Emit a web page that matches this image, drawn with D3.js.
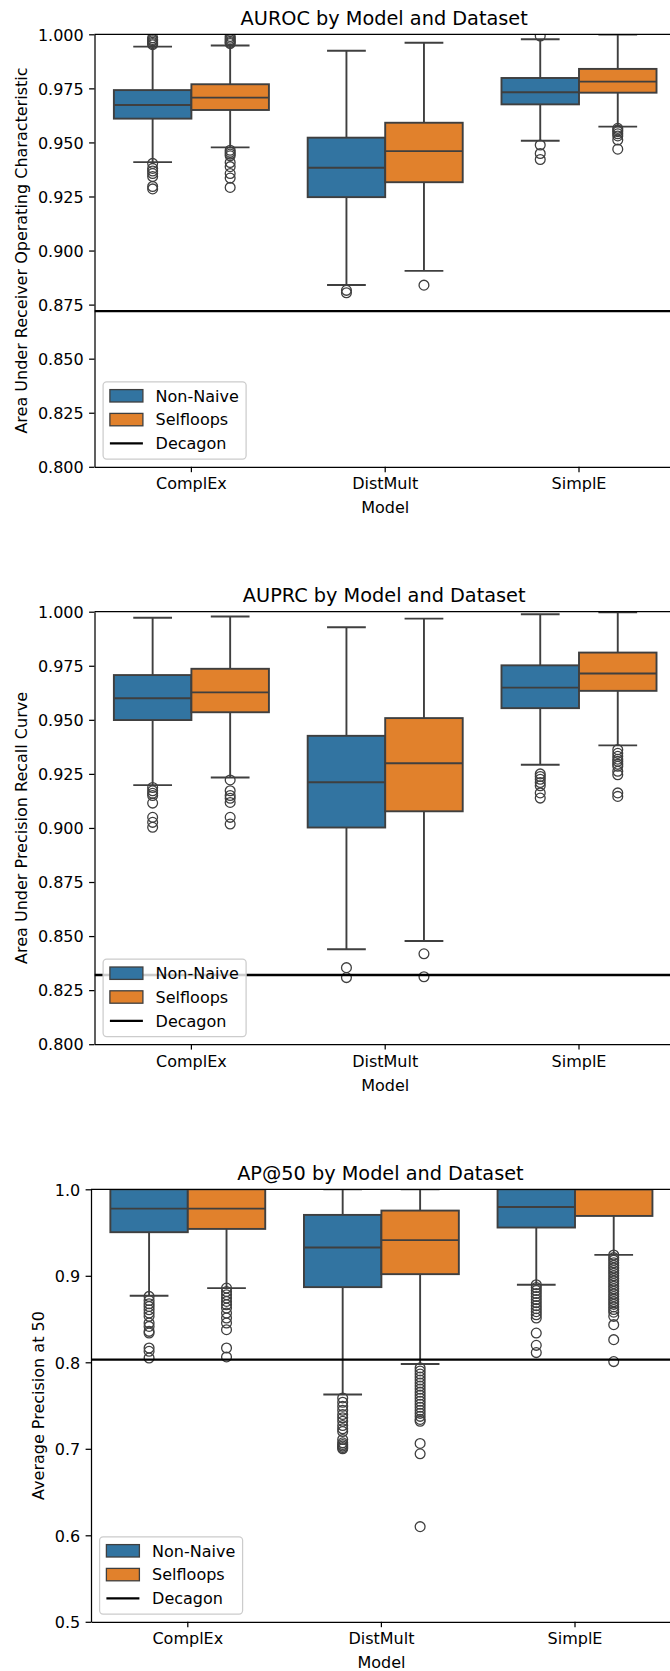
<!DOCTYPE html>
<html><head><meta charset="utf-8">
<script src="https://cdn.jsdelivr.net/npm/d3@7"></script>
<style>
body{margin:0;background:#fff}
svg{display:block}
text{font-family:"DejaVu Sans",sans-serif;fill:#000}
</style>
</head><body>
<svg id="chart" width="670" height="1671"></svg>
<script>
// ---------------- DATA ----------------
const models = ["ComplEx", "DistMult", "SimplE"];
const datasets = ["Non-Naive", "Selfloops"];
const legendLabels = ["Non-Naive", "Selfloops", "Decagon"];

// box stats per model: [lower whisker, Q1, median, Q3, upper whisker]
const aurocNonNaive = [
  [0.9409, 0.9610, 0.9673, 0.9742, 0.9943],
  [0.8841, 0.9247, 0.9383, 0.9522, 0.9924],
  [0.9508, 0.9676, 0.9732, 0.9798, 0.9977]
];
const aurocSelfloops = [
  [0.9477, 0.9650, 0.9707, 0.9769, 0.9948],
  [0.8906, 0.9316, 0.9460, 0.9591, 0.9961],
  [0.9573, 0.9730, 0.9781, 0.9840, 0.9999]
];
const aurocNonNaiveOutliers = [
  [0.9984, 0.9976, 0.9970, 0.9963, 0.9957, 0.9952, 0.9403, 0.9380, 0.9368, 0.9356, 0.9342, 0.9296, 0.9285],
  [0.8816, 0.8805],
  [0.9992, 0.9488, 0.9449, 0.9421]
];
const aurocSelfloopsOutliers = [
  [0.9990, 0.9982, 0.9975, 0.9968, 0.9962, 0.9957, 0.9464, 0.9455, 0.9446, 0.9438, 0.9407, 0.9388, 0.9356, 0.9335, 0.9292],
  [0.8840],
  [0.9565, 0.9558, 0.9550, 0.9540, 0.9530, 0.9511, 0.9469]
];
const aurocDecagon = 0.872;
const aurocTicks = [0.800, 0.825, 0.850, 0.875, 0.900, 0.925, 0.950, 0.975, 1.000];

const auprcNonNaive = [
  [0.9198, 0.9499, 0.9600, 0.9707, 0.9972],
  [0.8439, 0.9002, 0.9211, 0.9426, 0.9928],
  [0.9292, 0.9554, 0.9649, 0.9752, 0.9988]
];
const auprcSelfloops = [
  [0.9233, 0.9535, 0.9627, 0.9736, 0.9978],
  [0.8477, 0.9077, 0.9299, 0.9508, 0.9968],
  [0.9382, 0.9634, 0.9714, 0.9811, 0.9997]
];
const auprcNonNaiveOutliers = [
  [0.9187, 0.9172, 0.9160, 0.9150, 0.9115, 0.9049, 0.9026, 0.9003],
  [0.8354, 0.8308],
  [0.9250, 0.9238, 0.9225, 0.9210, 0.9195, 0.9162, 0.9138]
];
const auprcSelfloopsOutliers = [
  [0.9222, 0.9172, 0.9150, 0.9137, 0.9118, 0.9049, 0.9018],
  [0.8418, 0.8312],
  [0.9362, 0.9345, 0.9331, 0.9318, 0.9308, 0.9295, 0.9285, 0.9262, 0.9246, 0.9162, 0.9146]
];
const auprcDecagon = 0.832;
const auprcTicks = [0.800, 0.825, 0.850, 0.875, 0.900, 0.925, 0.950, 0.975, 1.000];

const ap50NonNaive = [
  [0.8769, 0.9504, 0.9777, 1.0, 1.0],
  [0.7627, 0.8869, 0.9327, 0.9704, 1.0],
  [0.8896, 0.9558, 0.9796, 1.0, 1.0]
];
const ap50Selfloops = [
  [0.8858, 0.9542, 0.9777, 1.0, 1.0],
  [0.7981, 0.9019, 0.9412, 0.9754, 1.0],
  [0.9242, 0.9692, 1.0, 1.0, 1.0]
];
const ap50NonNaiveOutliers = [
  [0.8762, 0.8715, 0.8677, 0.8646, 0.8608, 0.8569, 0.8531, 0.8454, 0.8415, 0.8358, 0.8338, 0.8165, 0.8127, 0.8050],
  [0.7588, 0.7538, 0.7492, 0.7446, 0.7396, 0.7358, 0.7319, 0.7269, 0.7231, 0.7200, 0.7108, 0.7069, 0.7050, 0.7031, 0.7015, 0.7000],
  [0.8896, 0.8865, 0.8830, 0.8795, 0.8760, 0.8725, 0.8690, 0.8655, 0.8620, 0.8585, 0.8550, 0.8512, 0.8338, 0.8196, 0.8112]
];
const ap50SelfloopsOutliers = [
  [0.8858, 0.8819, 0.8781, 0.8742, 0.8704, 0.8665, 0.8627, 0.8569, 0.8512, 0.8454, 0.8377, 0.8165, 0.8062],
  [0.7935, 0.7900, 0.7865, 0.7830, 0.7795, 0.7760, 0.7725, 0.7690, 0.7655, 0.7620, 0.7585, 0.7550, 0.7515, 0.7480, 0.7445, 0.7410, 0.7375, 0.7340, 0.7319, 0.7062, 0.6942, 0.6100],
  [0.9240, 0.9210, 0.9180, 0.9150, 0.9120, 0.9090, 0.9060, 0.9030, 0.9000, 0.8970, 0.8940, 0.8910, 0.8880, 0.8850, 0.8820, 0.8790, 0.8760, 0.8730, 0.8700, 0.8670, 0.8640, 0.8610, 0.8580, 0.8531, 0.8435, 0.8262, 0.8008]
];
const ap50Decagon = 0.803;
const ap50Ticks = [0.5, 0.6, 0.7, 0.8, 0.9, 1.0];

// ---------------- STYLE / LAYOUT ----------------
const palette = ["#3274a1", "#e1812c"];
const lineColor = "#3f3f3f";
const fontTick = 16, fontTitle = 19.3;

const panels = [
  {title: "AUROC by Model and Dataset", ylabel: "Area Under Receiver Operating Characteristic",
   stats: [aurocNonNaive, aurocSelfloops], outliers: [aurocNonNaiveOutliers, aurocSelfloopsOutliers],
   decagon: aurocDecagon, ticks: aurocTicks, domain: [0.8, 1.0], fmt: ".3f",
   top: 34.3, left: 94.5, step: 193.8, ylabelX: 26.7},
  {title: "AUPRC by Model and Dataset", ylabel: "Area Under Precision Recall Curve",
   stats: [auprcNonNaive, auprcSelfloops], outliers: [auprcNonNaiveOutliers, auprcSelfloopsOutliers],
   decagon: auprcDecagon, ticks: auprcTicks, domain: [0.8, 1.0], fmt: ".3f",
   top: 611.7, left: 94.5, step: 193.8, ylabelX: 26.7},
  {title: "AP@50 by Model and Dataset", ylabel: "Average Precision at 50",
   stats: [ap50NonNaive, ap50Selfloops], outliers: [ap50NonNaiveOutliers, ap50SelfloopsOutliers],
   decagon: ap50Decagon, ticks: ap50Ticks, domain: [0.5, 1.0], fmt: ".1f",
   top: 1189.3, left: 91, step: 193.6, ylabelX: 44}
];
const H = 432.5;

const svg = d3.select("#chart");

panels.forEach((p, pi) => {
  const right = p.left + p.step * models.length;
  const bottom = p.top + H;
  const x = d3.scaleBand().domain(models).range([p.left, right]).paddingInner(0).paddingOuter(0);
  const hue = d3.scaleBand().domain(datasets).range([0, x.bandwidth() * 0.8]);
  const y = d3.scaleLinear().domain(p.domain).range([bottom, p.top]);

  const g = svg.append("g");
  const clipId = "clip" + pi;
  g.append("clipPath").attr("id", clipId).append("rect")
    .attr("x", p.left).attr("y", p.top).attr("width", right - p.left).attr("height", H);
  const plot = g.append("g").attr("clip-path", `url(#${clipId})`);

  // boxes
  datasets.forEach((ds, di) => {
    models.forEach((m, mi) => {
      const [lo, q1, med, q3, hi] = p.stats[di][mi];
      const x0 = x(m) + x.bandwidth() * 0.1 + hue(ds);
      const w = hue.bandwidth();
      const cx = x0 + w / 2;
      const bg = plot.append("g");
      bg.append("line").attr("x1", cx).attr("x2", cx).attr("y1", y(q3)).attr("y2", y(hi))
        .attr("stroke", lineColor).attr("stroke-width", 1.9);
      bg.append("line").attr("x1", cx).attr("x2", cx).attr("y1", y(q1)).attr("y2", y(lo))
        .attr("stroke", lineColor).attr("stroke-width", 1.9);
      [lo, hi].forEach(v => {
        bg.append("line").attr("x1", cx - w / 4).attr("x2", cx + w / 4).attr("y1", y(v)).attr("y2", y(v))
          .attr("stroke", lineColor).attr("stroke-width", 1.9);
      });
      bg.append("rect").attr("x", x0).attr("y", y(q3)).attr("width", w).attr("height", Math.max(0, y(q1) - y(q3)))
        .attr("fill", palette[di]).attr("stroke", lineColor).attr("stroke-width", 1.9);
      bg.append("line").attr("x1", x0).attr("x2", x0 + w).attr("y1", y(med)).attr("y2", y(med))
        .attr("stroke", lineColor).attr("stroke-width", 1.9);
      bg.selectAll("circle.o").data(p.outliers[di][mi]).join("circle")
        .attr("cx", cx).attr("cy", d => y(d)).attr("r", 4.9)
        .attr("fill", "none").attr("stroke", lineColor).attr("stroke-width", 1.3);
    });
  });

  // Decagon reference line
  plot.append("line").attr("x1", p.left).attr("x2", right).attr("y1", y(p.decagon)).attr("y2", y(p.decagon))
    .attr("stroke", "#000").attr("stroke-width", 2.3);

  // axes
  const ya = g.append("g").attr("transform", `translate(${p.left},0)`)
    .call(d3.axisLeft(y).tickValues(p.ticks).tickFormat(d3.format(p.fmt)).tickSize(5.4).tickPadding(5.4).tickSizeOuter(0));
  const xa = g.append("g").attr("transform", `translate(0,${bottom})`)
    .call(d3.axisBottom(x).tickSize(5.4).tickPadding(5.4).tickSizeOuter(0));
  [ya, xa].forEach(a => {
    a.attr("font-size", fontTick).attr("font-family", "DejaVu Sans");
    a.selectAll("path.domain").attr("stroke", "#000").attr("stroke-width", 1.25);
    a.selectAll(".tick line").attr("stroke", "#000").attr("stroke-width", 1.25);
    a.selectAll(".tick text").attr("fill", "#000");
  });
  ya.selectAll(".tick text").attr("dy", "0.36em");
  xa.selectAll(".tick text").attr("dy", "0.74em");
  g.append("line").attr("x1", p.left).attr("x2", right).attr("y1", p.top).attr("y2", p.top)
    .attr("stroke", "#000").attr("stroke-width", 1.25);

  // title and labels
  g.append("text").attr("x", (p.left + right) / 2 - 1).attr("y", p.top - 9.3)
    .attr("text-anchor", "middle").attr("font-size", fontTitle).text(p.title);
  g.append("text").attr("x", (p.left + right) / 2).attr("y", bottom + 46.6)
    .attr("text-anchor", "middle").attr("font-size", fontTick).text("Model");
  g.append("text").attr("transform", `translate(${p.ylabelX},${(p.top + bottom) / 2}) rotate(-90)`)
    .attr("text-anchor", "middle").attr("font-size", fontTick).text(p.ylabel);

  // legend
  const lw = 143, lh = 77.3;
  const lx = p.left + 8.6, ly = bottom - 7.7 - lh;
  const lg = g.append("g");
  lg.append("rect").attr("x", lx).attr("y", ly).attr("width", lw).attr("height", lh).attr("rx", 3.5)
    .attr("fill", "#fff").attr("fill-opacity", 0.8).attr("stroke", "#cccccc").attr("stroke-width", 1.25);
  legendLabels.forEach((lab, i) => {
    const cy = ly + 14 + i * 23.8;
    if (i < 2) {
      lg.append("rect").attr("x", lx + 6.8).attr("y", cy - 6.2).attr("width", 33).attr("height", 12.4)
        .attr("fill", palette[i]).attr("stroke", lineColor).attr("stroke-width", 1.3);
    } else {
      lg.append("line").attr("x1", lx + 6.8).attr("x2", lx + 39.8).attr("y1", cy).attr("y2", cy)
        .attr("stroke", "#000").attr("stroke-width", 2.3);
    }
    lg.append("text").attr("x", lx + 52.5).attr("y", cy).attr("dy", "0.36em")
      .attr("font-size", fontTick).text(lab);
  });
});
</script>
</body></html>
